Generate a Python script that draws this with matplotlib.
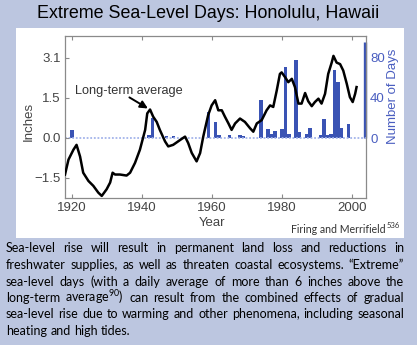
import matplotlib
matplotlib.use("Agg")
import matplotlib.pyplot as plt
from matplotlib.patches import Rectangle

# ---------------- data ----------------
curve_years = [1918.0, 1919.0, 1920.4, 1921.3, 1922.3, 1923.2, 1924.7, 1926.1, 1927.5, 1928.5,
               1929.9, 1930.9, 1931.6, 1932.3, 1933.7, 1935.6, 1936.6, 1938.0, 1939.4, 1940.9,
               1941.5, 1942.3, 1943.2, 1944.2, 1945.1, 1946.6, 1947.5, 1948.9, 1950.9, 1952.3,
               1953.2, 1954.2, 1955.6, 1956.6, 1957.5, 1958.9, 1959.9, 1960.9, 1961.8, 1962.8,
               1963.7, 1964.7, 1965.6, 1966.6, 1968.0, 1969.4, 1970.9, 1971.8, 1972.8, 1974.2,
               1975.6, 1976.6, 1977.5, 1978.5, 1979.4, 1979.9, 1980.9, 1981.8, 1982.8, 1983.7,
               1984.7, 1985.6, 1986.6, 1987.5, 1988.5, 1989.4, 1990.4, 1991.3, 1992.3, 1993.2,
               1994.2, 1994.7, 1995.6, 1996.6, 1997.5, 1998.5, 1999.4, 2000.2, 2000.9, 2001.3]
curve_inches = [-1.42, -0.84, -0.46, -0.27, -0.72, -1.35, -1.67, -1.86, -2.12, -2.25,
                -1.99, -1.73, -1.35, -1.42, -1.42, -1.46, -1.35, -0.97, -0.46, 0.31,
                0.95, 1.10, 0.82, 0.62, 0.31, -0.14, -0.33, -0.27, -0.08, 0.05,
                -0.20, -0.58, -0.91, -0.59, 0.05, 0.88, 1.26, 1.46, 1.07, 1.07,
                0.82, 0.56, 0.31, 0.56, 0.75, 0.62, 0.37, 0.24, 0.56, 0.69,
                1.07, 1.26, 1.20, 1.84, 2.48, 2.54, 2.35, 2.16, 2.29, 1.97,
                1.33, 1.33, 1.74, 1.42, 1.23, 1.39, 1.52, 1.33, 1.71, 2.48,
                2.92, 3.18, 2.92, 2.86, 2.61, 2.10, 1.58, 1.39, 1.71, 1.97]

bar_years = [1920, 1942, 1943, 1947, 1949, 1959, 1961, 1962, 1965, 1968, 1969, 1974, 1976,
             1977, 1978, 1980, 1981, 1982, 1984, 1985, 1987, 1988, 1991, 1992, 1993, 1994,
             1995, 1996, 1997, 1999]
bar_days = [8, 3, 20, 2, 2, 26, 16, 3, 3, 3, 2, 38, 9,
            4, 7, 9, 70, 4, 77, 6, 4, 10, 3, 19, 3, 4,
            67, 55, 10, 14]

year_ticks = [1920, 1940, 1960, 1980, 2000]
inch_ticks = [-1.55, 0.0, 1.55, 3.1]
inch_labels = ["\u22121.5", "0.0", "1.5", "3.1"]
day_ticks = [0, 40, 80]

title = "Extreme Sea-Level Days: Honolulu, Hawaii"
annot_text = "Long-term average"
source = "Firing and Merrifield"
source_sup = "536"
paragraph = [
    "Sea-level rise will result in permanent land loss and reductions in",
    "freshwater supplies, as well as threaten coastal ecosystems. \u201cExtreme\u201d",
    "sea-level days (with a daily average of more than 6 inches above the",
    "long-term average$^{\\mathregular{90}}$) can result from the combined effects of gradual",
    "sea-level rise due to warming and other phenomena, including seasonal",
    "heating and high tides.",
]

# ---------------- style ----------------
W, H = 417, 345
BG = "#bcc6e0"
BLUE = "#3a53b4"
BLUE_TXT = "#4a5ec0"
GRAY = "#8a8a8a"
TXT = "#444444"
SANS = ["Liberation Sans", "DejaVu Sans"]
HUM = ["Lato", "DejaVu Sans"]
plt.rcParams["mathtext.fontset"] = "custom"
plt.rcParams["mathtext.rm"] = "Lato"

fig = plt.figure(figsize=(W / 100, H / 100), dpi=100, facecolor=BG)
fig.patches.append(Rectangle((16 / W, 1 - 238 / H), 388 / W, 210 / H,
                             transform=fig.transFigure, facecolor="white",
                             edgecolor="none", zorder=-5))

def fx(px):
    return px / W

def fy(py):
    return 1 - py / H

ax = fig.add_axes([fx(65), fy(198), (366 - 65) / W, (198 - 36) / H])
ax2 = ax.twinx()
ax.set_zorder(2)
ax2.set_zorder(1)
ax.patch.set_visible(False)
ax2.patch.set_visible(False)

ax.set_xlim(1918.0, 2004.0)
ax.set_ylim(-2.33, 3.95)
ax2.set_ylim(-59.4, 101)

# bars
ax2.bar(bar_years, bar_days, width=0.9, color=BLUE, edgecolor="none", zorder=2)
# blue right axis segment
ax2.plot([2003.6, 2003.6], [0, 95], color=BLUE, lw=2.4, solid_capstyle="butt",
         zorder=3, clip_on=False)
# zero dotted line
ax.axhline(0, color="#a4b4ea", lw=1.3, ls=(0, (1, 1)), zorder=1)
# curve
ax.plot(curve_years, curve_inches, color="black", lw=1.8, zorder=4)

# annotation
ax.text(1936.3, 1.82, annot_text, ha="center", va="center", fontsize=9.2,
        family=SANS, color="#333333")
ax.annotate("", xy=(1941.7, 1.14), xytext=(1936.4, 1.57),
            arrowprops=dict(arrowstyle="-|>,head_length=0.45,head_width=0.22",
                            color="black", lw=1.4, shrinkA=0, shrinkB=0))

# spines and ticks
for s in ["left", "right", "top", "bottom"]:
    ax.spines[s].set_color(GRAY)
    ax.spines[s].set_linewidth(0.9)
    ax2.spines[s].set_visible(False)
ax.set_xticks(year_ticks)
ax.set_xticklabels([str(y) for y in year_ticks])
ax.set_yticks(inch_ticks)
ax.set_yticklabels(inch_labels)
ax.tick_params(axis="both", direction="in", length=3, width=0.8, color=GRAY,
               labelsize=9.5, labelcolor=TXT, top=True, pad=3)
for lab in ax.get_xticklabels() + ax.get_yticklabels():
    lab.set_family(SANS)
ax2.set_yticks(day_ticks)
ax2.set_yticklabels([str(d) for d in day_ticks])
ax2.tick_params(axis="y", direction="in", length=0, labelsize=9.5,
                labelcolor=BLUE_TXT, pad=3)
for lab in ax2.get_yticklabels():
    lab.set_family(SANS)

fig.text(fx(29), fy(121), "Inches", rotation=90, ha="center", va="center",
         fontsize=9.5, family=SANS, color=TXT)
fig.text(fx(212), fy(223), "Year", ha="center", va="center",
         fontsize=9.5, family=SANS, color=TXT)
fig.text(fx(393), fy(96), "Number of Days", rotation=90, ha="center", va="center",
         fontsize=9.5, family=SANS, color=BLUE_TXT)
fig.text(fx(208), fy(13), title, ha="center", va="center", fontsize=12.9,
         family=SANS, color="black")
fig.text(fx(386), fy(233), source, ha="right", va="baseline", fontsize=7.6,
         family=HUM, color="#333333")
fig.text(fx(386.5), fy(228), source_sup, ha="left", va="baseline", fontsize=5.6,
         family=HUM, color="#333333")

# justified paragraph
fig.canvas.draw()
r = fig.canvas.get_renderer()

def width_of(s, size):
    t = fig.text(0, 0, s, fontsize=size, family=HUM)
    w = t.get_window_extent(r).width
    t.remove()
    return w

x0, x1 = 6.0, 404.0
size = 10.0
maxw = max(width_of(l, size) for l in paragraph[:-1])
size = size * (x1 - x0 - 6) / maxw
space = width_of("a a", size) - width_of("aa", size)
baselines = [252, 269, 286, 302, 318, 335]
for i, line in enumerate(paragraph):
    words = line.split(" ")
    ws = [width_of(w, size) for w in words]
    if i < len(paragraph) - 1:
        gap = (x1 - x0 - sum(ws)) / (len(words) - 1)
    else:
        gap = space
    x = x0
    for w, wd in zip(words, ws):
        fig.text(fx(x), fy(baselines[i]), w, fontsize=size, family=HUM,
                 color="black", va="baseline", ha="left")
        x += wd + gap

fig.savefig("out.png", dpi=100, facecolor=BG)
